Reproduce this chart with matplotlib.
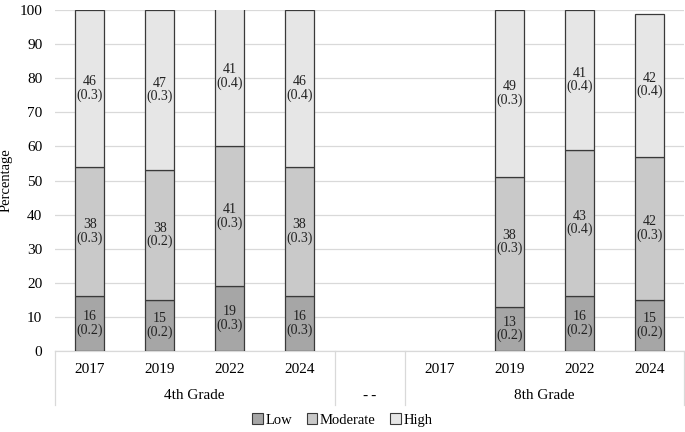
import numpy as np
import matplotlib.pyplot as plt
import matplotlib.transforms as mtransforms
from matplotlib.patches import Patch

plt.rcParams['font.family'] = ['Liberation Serif', 'DejaVu Serif']

# slots: 4th grade years, a "--" gap, 8th grade years
years = ['2017', '2019', '2022', '2024', '', '2017', '2019', '2022', '2024']
low = [16, 15, 19, 16, np.nan, np.nan, 13, 16, 15]
low_se = [0.2, 0.2, 0.3, 0.3, np.nan, np.nan, 0.2, 0.2, 0.2]
moderate = [38, 38, 41, 38, np.nan, np.nan, 38, 43, 42]
moderate_se = [0.3, 0.2, 0.3, 0.3, np.nan, np.nan, 0.3, 0.4, 0.3]
high = [46, 47, 41, 46, np.nan, np.nan, 49, 41, 42]
high_se = [0.3, 0.3, 0.4, 0.4, np.nan, np.nan, 0.3, 0.4, 0.4]
groups = ['4th Grade', '-\u2009-', '8th Grade']
group_spans = [(0, 3), (4, 4), (5, 8)]

colors = ['#a6a6a6', '#c9c9c9', '#e6e6e6']
edge = '#3a3a3a'

fig = plt.figure(figsize=(6.85, 4.32), dpi=100)
ax = fig.add_axes([0.080, 0.1875, 0.919, 0.789])

x = np.arange(len(years))
low_a = np.array(low)
mod_a = np.array(moderate)
high_a = np.array(high)
w = 0.41

series = [(low_a, low_se, np.zeros(len(x))),
          (mod_a, moderate_se, low_a),
          (high_a, high_se, low_a + mod_a)]
for (vals, ses, bottom), c in zip(series, colors):
    ax.bar(x, vals, w, bottom=bottom, color=c, edgecolor=edge,
           linewidth=0.9, zorder=3)
    for xi, v, s, b in zip(x, vals, ses, bottom):
        if np.isnan(v):
            continue
        ax.text(xi, b + v / 2, '%d\n(%.1f)' % (v, s), ha='center', va='center',
                fontsize=10, color='#222222', zorder=4, linespacing=1.0)

ax.set_xlim(-0.5, len(years) - 0.5)
ax.set_ylim(0, 100)
ax.set_yticks(range(0, 101, 10))
ax.tick_params(axis='y', length=0, labelsize=11, pad=9)
ax.tick_params(axis='x', length=0, labelbottom=False)
ax.grid(axis='y', color='#d9d9d9', linewidth=0.9, zorder=0)
ax.set_axisbelow(True)
for s in ['left', 'right', 'top']:
    ax.spines[s].set_visible(False)
ax.spines['bottom'].set_color('#d9d9d9')
ax.spines['bottom'].set_linewidth(0.9)
ax.set_ylabel('Percentage', fontsize=10.5, labelpad=5)

trans = mtransforms.blended_transform_factory(ax.transData, ax.transAxes)
for xi, yr in zip(x, years):
    ax.text(xi, -0.055, yr, transform=trans, ha='center', va='center', fontsize=11)
for g, (a, b) in zip(groups, group_spans):
    ax.text((a + b) / 2, -0.13, g, transform=trans, ha='center', va='center', fontsize=11)
for sx in [-0.5, 3.5, 4.5, len(years) - 0.5]:
    ax.plot([sx, sx], [0, -0.158], transform=trans, color='#d9d9d9',
            linewidth=0.9, clip_on=False)

handles = [Patch(facecolor=c, edgecolor=edge, linewidth=0.8) for c in colors]
fig.legend(handles, ['Low', 'Moderate', 'High'], loc='center',
           bbox_to_anchor=(0.5, 0.028), ncol=3, frameon=False, fontsize=10.5,
           handlelength=0.7, handleheight=0.7, handletextpad=0.2, columnspacing=1.0)

fig.savefig('out.png', dpi=100)
